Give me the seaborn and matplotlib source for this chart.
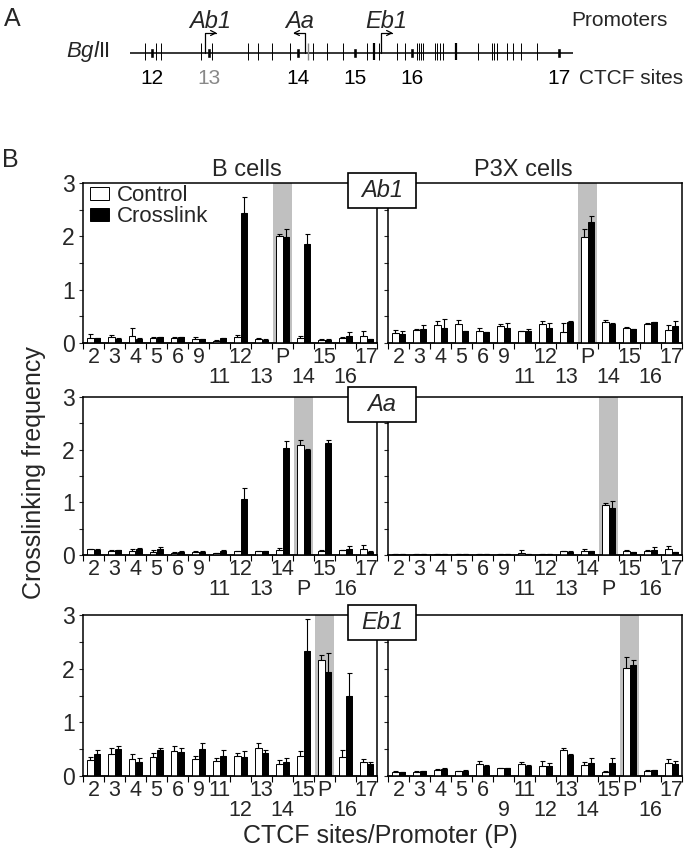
"""CTCF site / promoter crosslinking (3C) in B cells and P3X cells."""

import matplotlib
matplotlib.use("Agg")
import matplotlib.pyplot as plt
import numpy as np
import pandas as pd
import seaborn as sns
from matplotlib.patches import Rectangle

# ---- panel A: restriction map (positions along the locus, map units) ----
map_start, map_end = 130, 573
bgl_sites = [145, 156, 161, 201, 212, 248, 258, 272, 290, 313, 327, 343,
             367, 379, 397, 405, 417, 419, 421, 423, 435, 437, 440, 443,
             478, 492, 494, 497, 507, 513, 521, 537]
bgl_thick = [374, 456]
bgl_gray = [308]
ctcf_pos = [152, 209, 298, 355, 412, 559]
ctcf_names = ["12", "13", "14", "15", "16", "17"]
ctcf_label_colors = ["black", "#888888", "black", "black", "black", "black"]
promoter_names = ["Ab1", "Aa", "Eb1"]
promoter_pos = [205, 305, 381]
promoter_dir = [1, -1, 1]

# ---- panel B: crosslinking frequency ----
groups = ["Control", "Crosslink"]
cells = ["B cells", "P3X cells"]

sites_ab1 = ["2", "3", "4", "5", "6", "9", "11", "12", "13", "P", "14", "15", "16", "17"]
sites_aa = ["2", "3", "4", "5", "6", "9", "11", "12", "13", "14", "P", "15", "16", "17"]
sites_eb1 = ["2", "3", "4", "5", "6", "9", "11", "12", "13", "14", "15", "P", "16", "17"]

# labels printed on the lower row of the staggered axis
lower_ab1 = ["11", "13", "14", "16"]
lower_aa = ["11", "13", "P", "16"]
lower_eb1_b = ["12", "14", "16"]
lower_eb1_p3x = ["9", "12", "14", "16"]

# Ab1, B cells
ab1_b_ctrl = [0.10, 0.12, 0.14, 0.09, 0.09, 0.08, 0.04, 0.11, 0.08, 2.01, 0.10, 0.06, 0.10, 0.14]
ab1_b_ctrl_err = [0.06, 0.03, 0.14, 0.03, 0.03, 0.03, 0.01, 0.04, 0.02, 0.03, 0.04, 0.01, 0.02, 0.09]
ab1_b_xl = [0.09, 0.07, 0.07, 0.11, 0.11, 0.07, 0.09, 2.44, 0.06, 1.99, 1.85, 0.06, 0.14, 0.07]
ab1_b_xl_err = [0.01, 0.02, 0.02, 0.01, 0.01, 0.01, 0.01, 0.30, 0.01, 0.14, 0.20, 0.01, 0.06, 0.01]
# Ab1, P3X cells
ab1_p_ctrl = [0.18, 0.24, 0.33, 0.36, 0.22, 0.31, 0.22, 0.36, 0.21, 1.98, 0.40, 0.29, 0.35, 0.24]
ab1_p_ctrl_err = [0.06, 0.03, 0.08, 0.08, 0.07, 0.04, 0.01, 0.06, 0.16, 0.15, 0.04, 0.01, 0.03, 0.09]
ab1_p_xl = [0.16, 0.27, 0.29, 0.22, 0.20, 0.28, 0.23, 0.28, 0.40, 2.27, 0.36, 0.26, 0.39, 0.31]
ab1_p_xl_err = [0.06, 0.06, 0.16, 0.01, 0.01, 0.09, 0.03, 0.09, 0.01, 0.11, 0.01, 0.01, 0.01, 0.11]
# Aa, B cells
aa_b_ctrl = [0.11, 0.08, 0.08, 0.06, 0.04, 0.06, 0.03, 0.07, 0.07, 0.09, 2.09, 0.08, 0.09, 0.12]
aa_b_ctrl_err = [0.01, 0.02, 0.04, 0.03, 0.01, 0.01, 0.01, 0.01, 0.01, 0.05, 0.10, 0.01, 0.01, 0.07]
aa_b_xl = [0.10, 0.09, 0.12, 0.11, 0.06, 0.06, 0.08, 1.06, 0.07, 2.03, 1.99, 2.13, 0.11, 0.06]
aa_b_xl_err = [0.01, 0.01, 0.01, 0.05, 0.01, 0.01, 0.01, 0.21, 0.01, 0.13, 0.03, 0.05, 0.06, 0.01]
# Aa, P3X cells
aa_p_ctrl = [0.02, 0.02, 0.02, 0.02, 0.02, 0.02, 0.04, 0.02, 0.07, 0.08, 0.94, 0.07, 0.08, 0.11]
aa_p_ctrl_err = [0.0, 0.0, 0.0, 0.0, 0.0, 0.0, 0.06, 0.0, 0.01, 0.04, 0.05, 0.03, 0.01, 0.06]
aa_p_xl = [0.02, 0.02, 0.02, 0.02, 0.02, 0.02, 0.01, 0.02, 0.06, 0.07, 0.90, 0.05, 0.10, 0.05]
aa_p_xl_err = [0.0, 0.0, 0.0, 0.0, 0.0, 0.0, 0.0, 0.0, 0.01, 0.01, 0.13, 0.01, 0.06, 0.01]
# Eb1, B cells
eb1_b_ctrl = [0.30, 0.41, 0.31, 0.36, 0.46, 0.32, 0.28, 0.37, 0.53, 0.22, 0.38, 2.17, 0.36, 0.27]
eb1_b_ctrl_err = [0.06, 0.12, 0.10, 0.07, 0.10, 0.06, 0.06, 0.06, 0.09, 0.07, 0.08, 0.08, 0.12, 0.04]
eb1_b_xl = [0.41, 0.50, 0.27, 0.48, 0.45, 0.50, 0.37, 0.36, 0.42, 0.27, 2.33, 1.94, 1.49, 0.22]
eb1_b_xl_err = [0.07, 0.05, 0.06, 0.05, 0.07, 0.11, 0.11, 0.11, 0.06, 0.07, 0.60, 0.36, 0.42, 0.04]
# Eb1, P3X cells
eb1_p_ctrl = [0.07, 0.08, 0.12, 0.09, 0.22, 0.14, 0.22, 0.19, 0.48, 0.20, 0.08, 2.01, 0.10, 0.24]
eb1_p_ctrl_err = [0.03, 0.01, 0.01, 0.01, 0.06, 0.01, 0.05, 0.09, 0.04, 0.07, 0.01, 0.20, 0.01, 0.07]
eb1_p_xl = [0.07, 0.09, 0.13, 0.10, 0.19, 0.14, 0.19, 0.19, 0.40, 0.25, 0.25, 2.06, 0.11, 0.22]
eb1_p_xl_err = [0.01, 0.01, 0.01, 0.01, 0.01, 0.01, 0.01, 0.05, 0.01, 0.09, 0.09, 0.10, 0.01, 0.06]

sns.set_style("ticks")
plt.rcParams["font.family"] = ["Liberation Sans", "DejaVu Sans"]
plt.rcParams["mathtext.fontset"] = "custom"
plt.rcParams["mathtext.it"] = "Liberation Sans:italic"
plt.rcParams["mathtext.rm"] = "Liberation Sans"

W, H = 684, 851
fig = plt.figure(figsize=(W / 100, H / 100), dpi=100)


def fig_box(x0, y0, x1, y1):
    """Pixel box (top-left origin) -> figure fraction rect."""
    return [x0 / W, 1 - y1 / H, (x1 - x0) / W, (y1 - y0) / H]


# ---------------- panel A ----------------
axm = fig.add_axes([0, 1 - 95 / H, 1, 95 / H])
axm.set_xlim(0, W)
axm.set_ylim(95, 0)
axm.axis("off")
axm.hlines(53, map_start, map_end, color="black", lw=1.1)
axm.vlines(bgl_sites, 43, 60, color="black", lw=0.7)
axm.vlines(bgl_thick, 43, 60, color="black", lw=1.6)
axm.vlines(bgl_gray, 43, 60, color="#888888", lw=1.0)
axm.bar(ctcf_pos, 10, bottom=47.5, width=4, color="black")
for name, x, c in zip(ctcf_names, ctcf_pos, ctcf_label_colors):
    axm.text(x, 78, name, ha="center", va="center", fontsize=15, color=c)
axm.text(map_end + 6, 78, "CTCF sites", ha="left", va="center", fontsize=15)
for name, x, d in zip(promoter_names, promoter_pos, promoter_dir):
    axm.annotate("", xy=(x + d * 12, 33), xytext=(x, 53),
                 arrowprops=dict(arrowstyle="->", lw=0.9, color="black",
                                 shrinkA=0, shrinkB=0, mutation_scale=9,
                                 connectionstyle="angle,angleA=90,angleB=0,rad=0"))
    axm.text(x + d * 5, 21, name, ha="center", va="center", fontsize=17, style="italic")
axm.text(668, 20, "Promoters", ha="right", va="center", fontsize=15)
axm.text(110, 51, r"$\mathit{Bgl}$II", ha="right", va="center", fontsize=16)
fig.text(12 / W, 1 - 19 / H, "A", ha="center", va="center", fontsize=18)

# ---------------- panel B ----------------
panels = [
    (sites_ab1, lower_ab1, ab1_b_ctrl, ab1_b_ctrl_err, ab1_b_xl, ab1_b_xl_err),
    (sites_ab1, lower_ab1, ab1_p_ctrl, ab1_p_ctrl_err, ab1_p_xl, ab1_p_xl_err),
    (sites_aa, lower_aa, aa_b_ctrl, aa_b_ctrl_err, aa_b_xl, aa_b_xl_err),
    (sites_aa, lower_aa, aa_p_ctrl, aa_p_ctrl_err, aa_p_xl, aa_p_xl_err),
    (sites_eb1, lower_eb1_b, eb1_b_ctrl, eb1_b_ctrl_err, eb1_b_xl, eb1_b_xl_err),
    (sites_eb1, lower_eb1_p3x, eb1_p_ctrl, eb1_p_ctrl_err, eb1_p_xl, eb1_p_xl_err),
]
row_px = [(183, 343), (397, 555), (615, 776)]
col_px = [(83, 377), (388, 682)]

for k, (sites, lower, ctrl, ctrl_err, xl, xl_err) in enumerate(panels):
    r, c = divmod(k, 2)
    ax = fig.add_axes(fig_box(col_px[c][0], row_px[r][0], col_px[c][1], row_px[r][1]))
    n = len(sites)
    df = pd.DataFrame({
        "site": sites + sites,
        "freq": ctrl + xl,
        "err": ctrl_err + xl_err,
        "group": [groups[0]] * n + [groups[1]] * n,
    })
    p = sites.index("P")
    ax.axvspan(p - 0.45, p + 0.45, color="#c0c0c0", lw=0, zorder=0)
    sns.barplot(data=df, x="site", y="freq", hue="group", order=sites,
                hue_order=groups, palette={"Control": "white", "Crosslink": "black"},
                edgecolor="black", linewidth=0.7, width=0.6, errorbar=None,
                legend=False, ax=ax)
    for cont, g in zip(ax.containers, groups):
        sub = df[df["group"] == g]
        xs = [b.get_x() + b.get_width() / 2 for b in cont]
        ax.errorbar(xs, sub["freq"], yerr=[np.zeros(n), sub["err"]], fmt="none",
                    ecolor="black", elinewidth=0.8, capsize=1.8, capthick=0.8)

    ax.set_xlim(-0.5, n - 0.5)
    ax.set_ylim(0, 3)
    # staggered category labels: upper row as major ticks, lower row as minor
    up_idx = [i for i, s in enumerate(sites) if s not in lower]
    lo_idx = [i for i, s in enumerate(sites) if s in lower]
    ax.set_xticks(up_idx, [sites[i] for i in up_idx])
    ax.set_xticks(lo_idx, [sites[i] for i in lo_idx], minor=True)
    ax.tick_params(axis="x", which="major", length=0, pad=3, labelsize=15.5)
    ax.tick_params(axis="x", which="minor", length=0, pad=17.5, labelsize=15.5)
    # category boundary marks
    sec = ax.secondary_xaxis("bottom")
    sec.set_xticks(np.arange(-0.5, n, 1), [""] * (n + 1))
    sec.tick_params(axis="x", length=4, width=0.8, color="black")
    sec.spines["bottom"].set_linewidth(1.1)

    ax.set_yticks([0, 1, 2, 3])
    ax.set_yticks([0.5, 1.5, 2.5], minor=True)
    ax.tick_params(axis="y", which="both", length=3, width=0.8, pad=3, labelsize=16.5)
    if c == 1:
        ax.set_yticklabels([])
    ax.set_xlabel("")
    ax.set_ylabel("")
    for sp in ax.spines.values():
        sp.set_linewidth(1.1)
        sp.set_color("black")

    if k == 0:
        ax.legend(ax.containers[:2], groups, loc="upper left",
                  bbox_to_anchor=(0.025, 0.985), frameon=False, fontsize=16,
                  handlelength=0.85, handleheight=0.5, handletextpad=0.35,
                  labelspacing=0.0, borderpad=0, borderaxespad=0)

# promoter label boxes straddling the two columns
box_top = [r0 - 10 for r0, _ in row_px]
for name, top in zip(promoter_names, box_top):
    fig.add_artist(Rectangle((348 / W, 1 - (top + 35) / H), 68 / W, 35 / H,
                             transform=fig.transFigure, fc="white", ec="black",
                             lw=1.2, zorder=5))
    fig.text(382 / W, 1 - (top + 17.5) / H, name, ha="center", va="center",
             fontsize=17, style="italic", zorder=6)

fig.text(247 / W, 1 - 170 / H, cells[0], ha="center", va="center", fontsize=17)
fig.text(523 / W, 1 - 170 / H, cells[1], ha="center", va="center", fontsize=17)
fig.text(10 / W, 1 - 160 / H, "B", ha="center", va="center", fontsize=18)
fig.text(34 / W, 1 - 473 / H, "Crosslinking frequency", ha="center", va="center",
         rotation=90, fontsize=18)
fig.text(380 / W, 1 - 836 / H, "CTCF sites/Promoter (P)", ha="center", va="center",
         fontsize=18)

fig.savefig("out.png", dpi=100)
